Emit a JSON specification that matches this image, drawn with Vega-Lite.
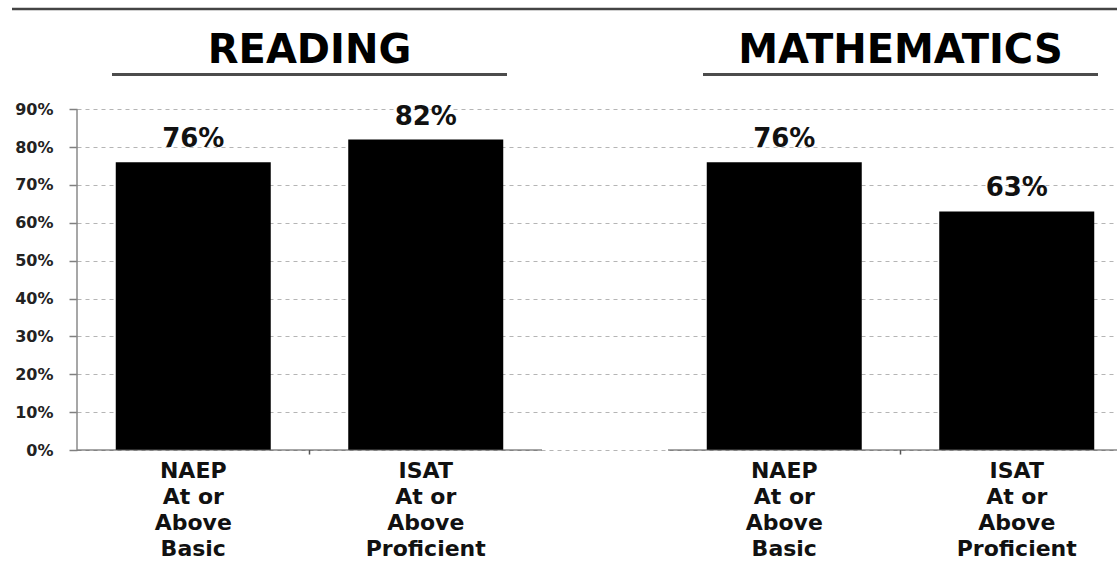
{
  "$schema": "https://vega.github.io/schema/vega-lite/v6.json",
  "autosize": "none",
  "width": 1105,
  "height": 441,
  "padding": {"left": 12, "top": 9, "right": 0, "bottom": 127},
  "background": "white",
  "view": {"stroke": null},
  "config": {
    "font": "DejaVu Sans",
    "text": {"lineBreak": "\n"}
  },
  "data": {
    "values": [
      {"subject": "READING", "test": "NAEP", "label": "NAEP\nAt or\nAbove\nBasic", "pct": 0.76},
      {"subject": "READING", "test": "ISAT", "label": "ISAT\nAt or\nAbove\nProficient", "pct": 0.82},
      {"subject": "MATHEMATICS", "test": "NAEP", "label": "NAEP\nAt or\nAbove\nBasic", "pct": 0.76},
      {"subject": "MATHEMATICS", "test": "ISAT", "label": "ISAT\nAt or\nAbove\nProficient", "pct": 0.63}
    ]
  },
  "encoding": {
    "x": {
      "field": "subject",
      "type": "nominal",
      "sort": ["READING", "MATHEMATICS"],
      "scale": {"domain": ["READING", "MATHEMATICS"], "range": [65, 1121], "paddingInner": 0.2132, "paddingOuter": 0},
      "axis": null
    }
  },
  "layer": [
    {
      "mark": {"type": "bar", "color": "black"},
      "encoding": {
        "xOffset": {"field": "test", "type": "nominal", "sort": ["NAEP", "ISAT"], "scale": {"domain": ["NAEP", "ISAT"], "paddingInner": 0.3333, "paddingOuter": 0.1667}},
        "y": {
          "field": "pct",
          "type": "quantitative",
          "scale": {"domain": [0, 1.1648], "nice": false, "zero": true},
          "axis": {
            "values": [0, 0.1, 0.2, 0.3, 0.4, 0.5, 0.6, 0.7, 0.8, 0.9],
            "format": ".0%",
            "title": null,
            "offset": -65,
            "domain": false,
            "grid": true,
            "gridDash": [4, 4],
            "gridColor": "#b5b5b5",
            "gridWidth": 1,
            "ticks": true,
            "tickSize": 8,
            "tickColor": "#808080",
            "tickWidth": 1.5,
            "labelPadding": 16,
            "labelFont": "DejaVu Sans",
            "labelFontWeight": "bold",
            "labelFontSize": 16,
            "labelColor": "#222222"
          }
        }
      }
    },
    {
      "mark": {"type": "text", "baseline": "alphabetic", "align": "center", "dy": -15, "fontSize": 26, "fontWeight": "bold", "color": "#111111"},
      "encoding": {
        "xOffset": {"field": "test", "type": "nominal", "sort": ["NAEP", "ISAT"]},
        "y": {"field": "pct", "type": "quantitative"},
        "text": {"field": "pct", "type": "quantitative", "format": ".0%"}
      }
    },
    {
      "mark": {"type": "text", "baseline": "top", "align": "center", "dy": 11, "fontSize": 22, "fontWeight": "bold", "lineHeight": 26, "color": "#111111"},
      "encoding": {
        "xOffset": {"field": "test", "type": "nominal", "sort": ["NAEP", "ISAT"]},
        "y": {"datum": 0},
        "text": {"field": "label", "type": "nominal"}
      }
    },
    {
      "transform": [{"aggregate": [{"op": "count", "as": "n"}], "groupby": ["subject"]}],
      "mark": {"type": "tick", "orient": "horizontal", "size": 465, "thickness": 1.5, "color": "#555555"},
      "encoding": {"y": {"datum": 0}}
    },
    {
      "transform": [{"aggregate": [{"op": "count", "as": "n"}], "groupby": ["subject"]}],
      "mark": {"type": "rule", "color": "#555555", "strokeWidth": 1.5},
      "encoding": {"y": {"datum": 0}, "y2": {"datum": -0.012}}
    },
    {
      "transform": [{"aggregate": [{"op": "count", "as": "n"}], "groupby": ["subject"]}],
      "mark": {"type": "tick", "orient": "horizontal", "size": 395, "thickness": 3, "color": "black"},
      "encoding": {"y": {"datum": 0.9918}}
    },
    {
      "transform": [{"aggregate": [{"op": "count", "as": "n"}], "groupby": ["subject"]}],
      "mark": {"type": "text", "baseline": "alphabetic", "align": "center", "fontSize": 40, "fontWeight": "bold", "color": "black"},
      "encoding": {"y": {"datum": 1.0222}, "text": {"field": "subject", "type": "nominal"}}
    },
    {
      "transform": [{"aggregate": [{"op": "count", "as": "n"}]}],
      "mark": {"type": "rule", "color": "#8a8a8a", "strokeWidth": 1.5},
      "encoding": {
        "x": {"datum": "READING", "bandPosition": 0},
        "y": {"datum": 0},
        "y2": {"datum": 0.9}
      }
    },
    {
      "transform": [{"aggregate": [{"op": "count", "as": "n"}]}],
      "mark": {"type": "rule", "color": "#444444", "strokeWidth": 2.5},
      "encoding": {"x": null, "y": {"datum": 1.1648}}
    }
  ]
}
